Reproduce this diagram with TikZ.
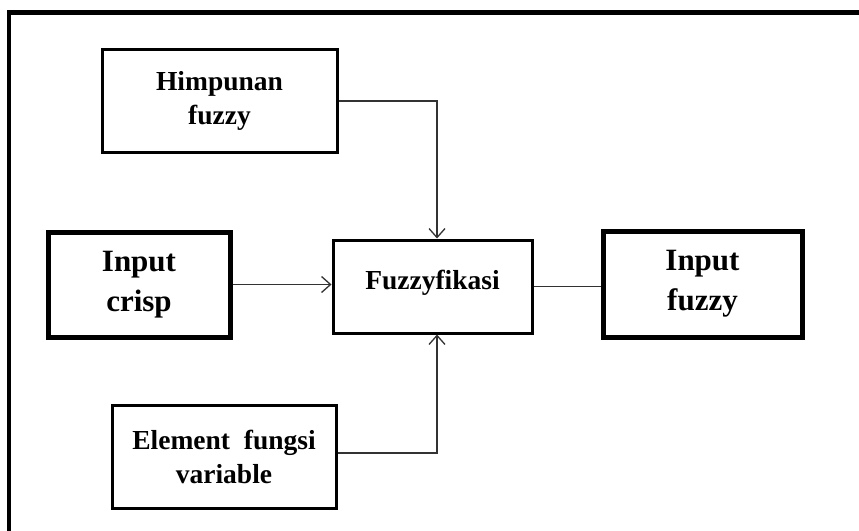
\documentclass[tikz,border=0pt]{standalone}
\usepackage{fontspec}
\setmainfont{Liberation Serif}
\usetikzlibrary{arrows.meta}
\begin{document}
\begin{tikzpicture}[x=1pt,y=-1pt,
  box/.style={draw, line width=3pt, fill=white, align=center, inner sep=0pt,
    font=\bfseries\fontsize{27.5}{34}\selectfont},
  bigbox/.style={draw, line width=5pt, fill=white, align=center, inner sep=0pt,
    font=\bfseries\fontsize{31}{40}\selectfont},
  link/.style={draw=black!80, line width=1.5pt},
  tip/.style={-{Straight Barb[length=9pt,width=16pt,line width=1.3pt]}}]
  \useasboundingbox (0,0) rectangle (859,530);
  \fill[white] (0,0) rectangle (859,530);
  % outer frame: top and left edges only
  \draw[line width=4.5pt] (9,540) -- (9,12.5) -- (870,12.5);

  \node[box, minimum width=235pt, minimum height=103pt, text depth=6pt] (hf) at (219.5,101) {Himpunan\\fuzzy};
  \node[bigbox, minimum width=182pt, minimum height=105pt] (ic) at (139,284.5) {Input\\crisp};
  \node[box, minimum width=199pt, minimum height=93pt, text height=26pt, text depth=20pt] (fz) at (432.5,286.5) {Fuzzyfikasi};
  \node[bigbox, minimum width=199pt, minimum height=106pt] (if) at (702.5,284) {Input\\fuzzy};
  \node[box, minimum width=224pt, minimum height=103pt] (ev) at (224,456.5) {Element\ \ fungsi\\variable};

  \coordinate (fztop) at ([xshift=4.5pt]fz.north);
  \coordinate (fzbot) at ([xshift=4.5pt]fz.south);

  \draw[link, tip] (hf.east) -| (fztop);
  \draw[link, tip] (ic.east) -- (ic.east -| fz.west);
  \draw[link] (fz.east) -- (fz.east -| if.west);
  \draw[link, tip] ([yshift=3.5pt]ev.east) -| (fzbot);
\end{tikzpicture}
\end{document}
